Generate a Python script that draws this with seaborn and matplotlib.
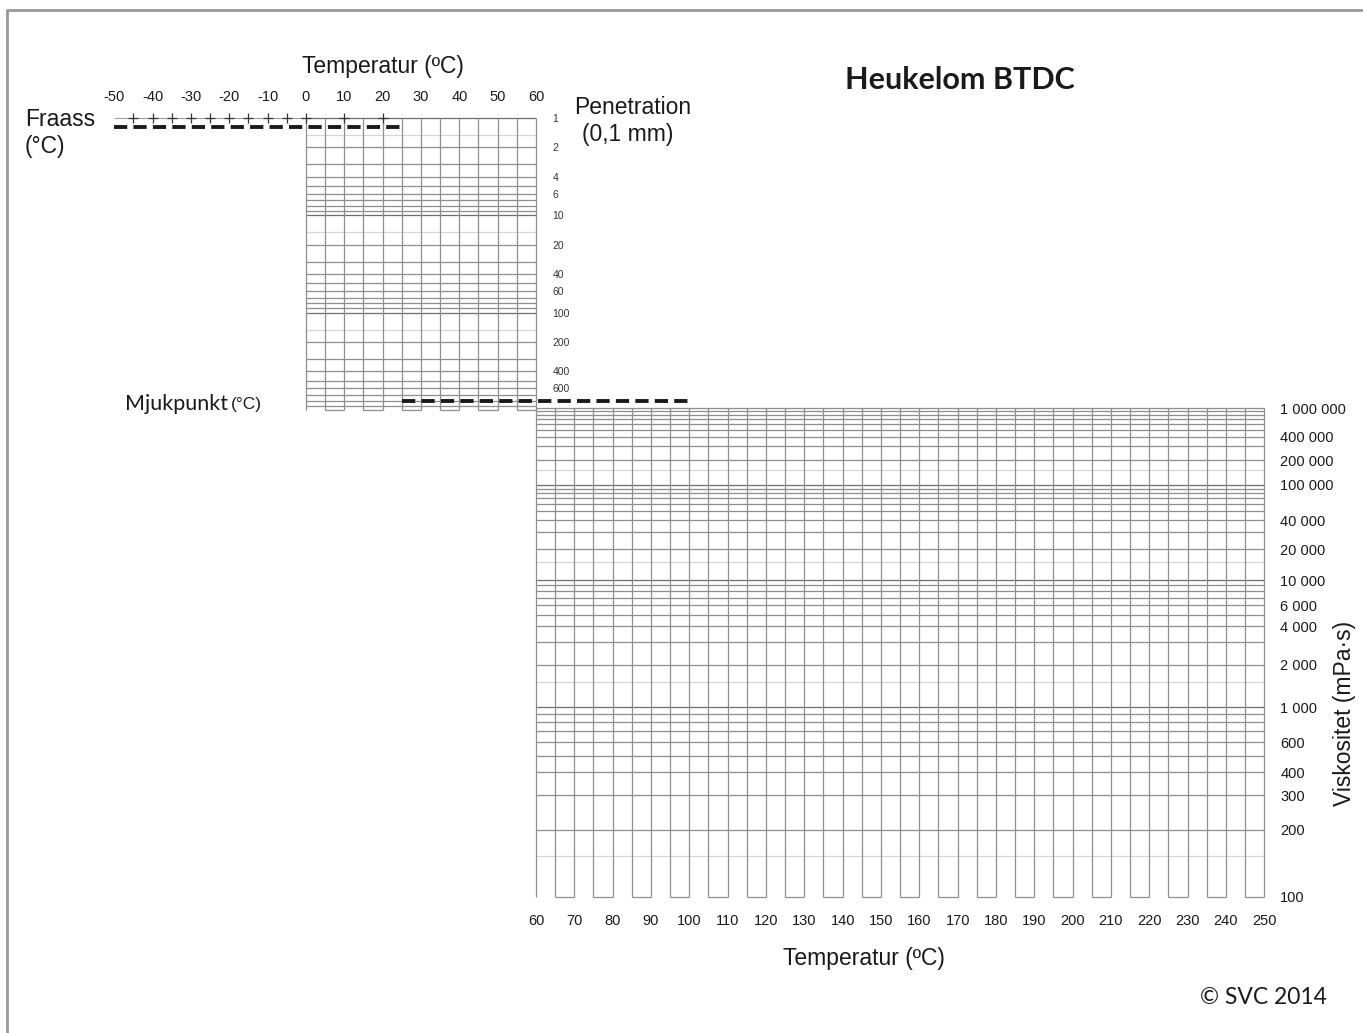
import numpy as np
import pandas as pd
import seaborn as sns
import matplotlib.pyplot as plt
from matplotlib.ticker import NullLocator

# chart values
top_temp_ticks = [-50, -40, -30, -20, -10, 0, 10, 20, 30, 40, 50, 60]
bottom_temp_ticks = [60, 70, 80, 90, 100, 110, 120, 130, 140, 150, 160, 170,
                     180, 190, 200, 210, 220, 230, 240, 250]
pen_ticks = [1, 2, 4, 6, 10, 20, 40, 60, 100, 200, 400, 600]
visc_ticks = [1e6, 4e5, 2e5, 1e5, 4e4, 2e4, 1e4, 6000, 4000, 2000, 1000,
              600, 400, 300, 200, 100]
visc_labels = ['1 000 000', '400 000', '200 000', '100 000', '40 000', '20 000',
               '10 000', '6 000', '4 000', '2 000', '1 000', '600', '400', '300',
               '200', '100']
fraass_marks = [-45, -40, -35, -30, -25, -20, -15, -10, -5, 0, 10, 20]
fraass_line_t = [-50, 25]      # Fraass line at penetration 1.25
fraass_pen = 1.25
soft_line_t = [25, 100]        # softening point line at penetration 800
soft_pen = 800
grid_subs = [1, 1.5, 2, 3, 4, 5, 6, 7, 8, 9]
pen_decades = [1, 10, 100]
visc_decades = [100, 1000, 10000, 100000]

sns.set_style("white")
plt.rcParams['font.family'] = ['Liberation Sans', 'DejaVu Sans']

W, H = 1363, 1033
MID, LIGHT, DARK = '#8e8e8e', '#d6d6d6', '#6e6e6e'
TXT = '#1a1a1a'
LATO = ['Lato', 'DejaVu Sans']


def px_box(x0, y0, x1, y1):
    return [x0 / W, 1 - y1 / H, (x1 - x0) / W, (y1 - y0) / H]


def ftxt(x, y, s, **kw):
    kw.setdefault('va', 'center')
    kw.setdefault('color', TXT)
    return fig.text(x / W, 1 - y / H, s, **kw)


def fwd(v):
    v = np.clip(np.asarray(v, dtype=float), 3, None)
    return np.log10(np.log10(v) - 0.4)


def inv(u):
    return 10 ** (10 ** np.asarray(u, dtype=float) + 0.4)


def grid_colour(m):
    if m == 1.5:
        return LIGHT
    if m == 1:
        return DARK
    return MID


fig = plt.figure(figsize=(W / 100, H / 100), dpi=100)
ax_pen = fig.add_axes(px_box(114.3, 118, 536, 410))
ax_vis = fig.add_axes(px_box(536, 408, 1264.3, 897))

# ---- penetration chart ----
ax_pen.set_yscale('log')
ax_pen.set_xlim(-50, 60)
ax_pen.set_ylim(1000, 1)
for d in pen_decades:
    for m in grid_subs:
        ax_pen.hlines(m * d, 0, 60, color=grid_colour(m), lw=0.9, clip_on=False)
ax_pen.vlines(list(range(0, 61, 5)), 1, 1000, color=MID, lw=0.9, clip_on=False)
seg = list(range(5, 60, 10))
ax_pen.hlines([1000] * len(seg), seg, [s + 5 for s in seg], color=MID, lw=0.9,
              clip_on=False)
ax_pen.hlines(1, -50, 0, color='#a0a0a0', lw=0.8, clip_on=False)
sns.scatterplot(x=fraass_marks, y=[1] * len(fraass_marks), marker='+', s=45,
                color='#333333', linewidth=0.9, ax=ax_pen, clip_on=False,
                legend=False, zorder=5)
sns.lineplot(x=fraass_line_t, y=[fraass_pen] * 2, ax=ax_pen, color=TXT, lw=2.8,
             linestyle=(0, (3.4, 1.6)), clip_on=False, zorder=6)
sns.lineplot(x=soft_line_t, y=[soft_pen] * 2, ax=ax_pen, color=TXT, lw=2.8,
             linestyle=(0, (3.4, 1.6)), clip_on=False, zorder=6)

ax_pen.xaxis.set_ticks_position('top')
ax_pen.set_xticks(top_temp_ticks, labels=[str(t) for t in top_temp_ticks])
ax_pen.yaxis.tick_right()
ax_pen.set_yticks(pen_ticks, labels=[str(p) for p in pen_ticks])
ax_pen.yaxis.set_minor_locator(NullLocator())
ax_pen.tick_params(axis='x', length=0, pad=10, labelsize=10.5, colors=TXT)
ax_pen.tick_params(axis='y', length=0, pad=12, labelsize=7.5, colors='#333333')
for sp in ax_pen.spines.values():
    sp.set_visible(False)
ax_pen.set_xlabel(None)
ax_pen.set_ylabel(None)
ax_pen.patch.set_alpha(0)

# ---- viscosity chart ----
ax_vis.set_yscale('function', functions=(fwd, inv))
ax_vis.set_xlim(60, 250)
ax_vis.set_ylim(100, 1e6)
for d in visc_decades:
    for m in grid_subs:
        if m * d > 100:
            ax_vis.hlines(m * d, 60, 250, color=grid_colour(m), lw=0.9,
                          clip_on=False)
ax_vis.hlines(1e6, 60, 250, color=MID, lw=0.9, clip_on=False)
ax_vis.vlines(list(range(60, 251, 5)), 100, 1e6, color=MID, lw=0.9,
              clip_on=False)
seg = list(range(65, 250, 10))
ax_vis.hlines([100] * len(seg), seg, [s + 5 for s in seg], color=MID, lw=0.9,
              clip_on=False)

ax_vis.set_xticks(bottom_temp_ticks, labels=[str(t) for t in bottom_temp_ticks])
ax_vis.yaxis.tick_right()
ax_vis.set_yticks(visc_ticks, labels=visc_labels)
ax_vis.yaxis.set_minor_locator(NullLocator())
ax_vis.tick_params(axis='x', length=0, pad=12, labelsize=10.5, colors=TXT)
ax_vis.tick_params(axis='y', length=0, pad=11.5, labelsize=10.5, colors=TXT)
for sp in ax_vis.spines.values():
    sp.set_visible(False)
ax_vis.patch.set_alpha(0)

# ---- texts ----
ftxt(383, 66, 'Temperatur (ºC)', ha='center', fontsize=16.5)
ftxt(25, 119, 'Fraass', ha='left', fontsize=16.5)
ftxt(25, 146, '(°C)', ha='left', fontsize=16.5)
ftxt(633, 107, 'Penetration', ha='center', fontsize=16.5)
ftxt(628, 135, '(0,1 mm)', ha='center', fontsize=16.5)
ftxt(960, 80, 'Heukelom BTDC', ha='center', fontsize=22, fontweight='bold',
     family=LATO)
ftxt(125, 404, 'Mjukpunkt', ha='left', fontsize=15.5, family=LATO)
ftxt(231, 405, '(°C)', ha='left', fontsize=12.5)
ftxt(1345, 713, 'Viskositet (mPa·s)', ha='center', rotation=90, fontsize=16.5)
ftxt(864, 958, 'Temperatur (ºC)', ha='center', fontsize=16.5)
ftxt(1263, 998, '© SVC 2014', ha='center', fontsize=16.5, family=LATO)

# page frame
fig.add_artist(plt.Line2D([7 / W, 7 / W], [0, 1 - 10 / H], color='#9a9a9a', lw=2))
fig.add_artist(plt.Line2D([7 / W, 1], [1 - 10 / H, 1 - 10 / H], color='#9a9a9a', lw=2))

fig.savefig('out.png', dpi=100, facecolor='white')
